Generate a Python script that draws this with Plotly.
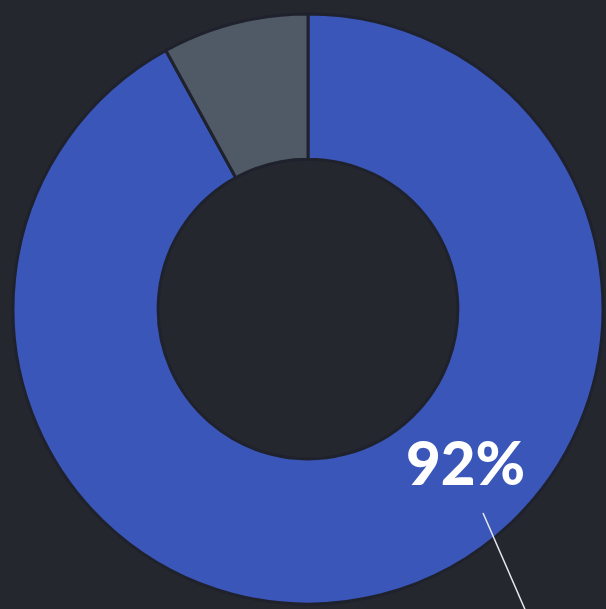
import plotly.graph_objects as go

labels = ["Yes", "No"]
values = [92, 8]
colors = ["#3a56b8", "#4f5a66"]

W, H = 606, 609
bg = "#25272f"

fig = go.Figure(go.Pie(
    labels=labels,
    values=values,
    hole=0.508,
    sort=False,
    direction="clockwise",
    rotation=0,
    marker=dict(colors=colors, line=dict(color="#1f222c", width=3)),
    textinfo="none",
    hoverinfo="label+percent",
    showlegend=False,
    domain=dict(x=[13/W, 603/W], y=[1 - 604/H, 1 - 14/H]),
))

fig.add_annotation(
    x=465/W, y=1 - 462/H, xref="paper", yref="paper",
    text=f"{values[0]}%", showarrow=False,
    font=dict(family="Lato", size=60, color="#ffffff", weight=900),
    xanchor="center", yanchor="middle",
)
fig.add_shape(
    type="line", xref="paper", yref="paper",
    x0=483/W, y0=1 - 513/H, x1=527/W, y1=1 - 614/H,
    line=dict(color="#e6e8ee", width=1.5),
)

fig.update_layout(
    width=W, height=H,
    margin=dict(l=0, r=0, t=0, b=0),
    paper_bgcolor=bg, plot_bgcolor=bg,
)

fig.write_html(
    "out.html",
    config={"displayModeBar": False},
    post_script="document.body.style.margin='0';document.body.style.background='#25272f';",
)
